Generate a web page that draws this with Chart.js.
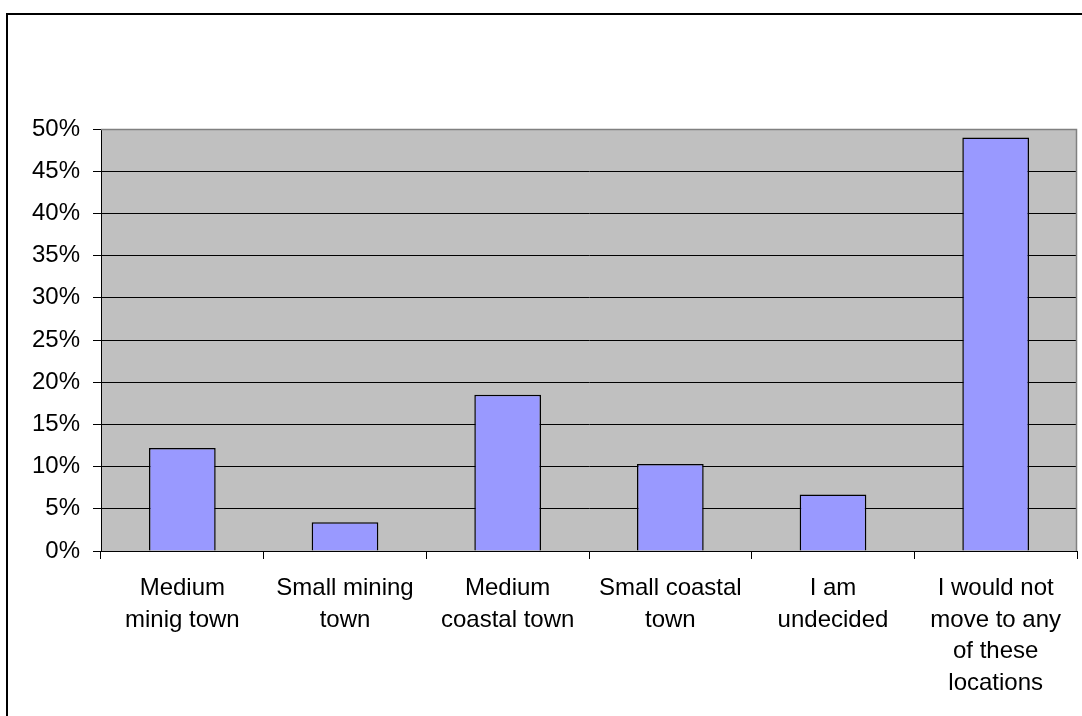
<!DOCTYPE html>
<html>
<head>
<meta charset="utf-8">
<script src="https://cdn.jsdelivr.net/npm/chart.js@4"></script>
<style>
  body { margin: 0; background: #fff; }
  canvas { display: block; }
</style>
</head>
<body>
<canvas id="relocationChart" width="1082" height="716"></canvas>
<script>
// datos del gráfico
const categories = [
    ['Medium', 'minig town'],
    ['Small mining', 'town'],
    ['Medium', 'coastal town'],
    ['Small coastal', 'town'],
    ['I am', 'undecided'],
    ['I would not', 'move to any', 'of these', 'locations']
];
const shares = [0.122, 0.034, 0.185, 0.103, 0.067, 0.49];
const yTicks = [0, 0.05, 0.10, 0.15, 0.20, 0.25, 0.30, 0.35, 0.40, 0.45, 0.50];

const font = { family: "'Liberation Sans', Arial, sans-serif", size: 24 };

// fondo gris del área y marco exterior
const framePlugin = {
    id: 'frame',
    beforeDraw(chart) {
        const { ctx, chartArea: a } = chart;
        ctx.save();
        ctx.fillStyle = '#c0c0c0';
        ctx.fillRect(a.left, a.top, a.right - a.left, a.bottom - a.top);
        ctx.strokeStyle = '#000';
        ctx.lineWidth = 2;
        ctx.beginPath();
        ctx.moveTo(7, chart.height);
        ctx.lineTo(7, 14);
        ctx.lineTo(chart.width, 14);
        ctx.stroke();
        ctx.restore();
    },
    afterDatasetsDraw(chart) {
        const { ctx, chartArea: a } = chart;
        ctx.save();
        ctx.strokeStyle = '#808080';
        ctx.lineWidth = 1.5;
        ctx.beginPath();
        ctx.moveTo(a.left, a.top + 0.5);
        ctx.lineTo(a.right - 0.5, a.top + 0.5);
        ctx.lineTo(a.right - 0.5, a.bottom);
        ctx.stroke();
        ctx.restore();
    }
};

new Chart(document.getElementById('relocationChart'), {
    type: 'bar',
    data: {
        labels: categories,
        datasets: [{
            data: shares,
            backgroundColor: '#9999ff',
            borderColor: '#000',
            borderWidth: 1.5,
            categoryPercentage: 1,
            barPercentage: 0.41
        }]
    },
    options: {
        responsive: false,
        animation: false,
        layout: { padding: { top: 129, right: 5, left: 0, bottom: 0 } },
        plugins: { legend: { display: false }, tooltip: { enabled: false } },
        scales: {
            x: {
                offset: true,
                afterFit: (s) => { s.height = 165; },
                grid: {
                    offset: true,
                    drawOnChartArea: false,
                    drawTicks: true,
                    tickLength: 8,
                    color: '#000',
                    lineWidth: 1
                },
                border: { color: '#000', width: 1 },
                ticks: {
                    color: '#000',
                    font: { ...font, lineHeight: 1.33 },
                    padding: 13,
                    maxRotation: 0,
                    autoSkip: false
                }
            },
            y: {
                min: 0,
                max: 0.5,
                afterFit: (s) => { s.width = 101; },
                afterBuildTicks: (s) => { s.ticks = yTicks.map(v => ({ value: v })); },
                grid: {
                    color: (c) => (c.tick && c.tick.value === 0.5 ? '#808080' : '#000'),
                    tickColor: '#000',
                    tickLength: 8,
                    lineWidth: 1
                },
                border: { color: '#000', width: 1 },
                ticks: {
                    color: '#000',
                    font: font,
                    padding: 13,
                    callback: (v) => Math.round(v * 100) + '%'
                }
            }
        }
    },
    plugins: [framePlugin]
});
</script>
</body>
</html>
